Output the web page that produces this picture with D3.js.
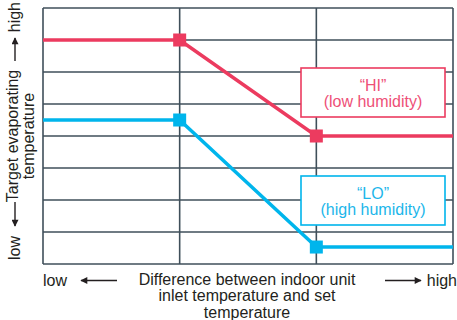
<!DOCTYPE html>
<html>
<head>
<meta charset="utf-8">
<script src="https://cdn.jsdelivr.net/npm/d3@7"></script>
<style>
  html, body { margin: 0; padding: 0; background: #fff; }
  svg { display: block; font-family: "Liberation Sans", Arial, sans-serif; }
</style>
</head>
<body>
<svg id="chart" width="457" height="320"></svg>
<script>
// ---- data ----
const xPositions = [0, 1, 2, 3];          // difference: low -> high
const hiValues   = [7, 7, 4, 4];          // "HI" (low humidity)
const loValues   = [4.5, 4.5, 0.53, 0.53];// "LO" (high humidity)
const markerIdx  = [1, 2];
const yGridTicks = [0, 1, 2, 3, 4, 5, 6, 7, 8];
const xGridTicks = [0, 1, 2, 3];
const seriesNames = ["\u201CHI\u201D", "\u201CLO\u201D"];
const seriesSubs  = ["(low humidity)", "(high humidity)"];
const xLabelLines = ["Difference between indoor unit", "inlet temperature and set", "temperature"];
const yLabelLines = ["Target evaporating", "temperature"];
const lowText = "low", highText = "high";

// ---- layout ----
const W = 457, H = 320;
const plot = { left: 43, right: 453, top: 8, bottom: 264 };
const RED = "#ec3b5f", BLUE = "#00b5ec";
const RED_TXT = "#ee5077", BLUE_TXT = "#1cb6ea";
const GRID = "#3f4f5a", TXT = "#231f20";

const svg = d3.select("#chart");
const x = d3.scaleLinear().domain([0, 3]).range([plot.left, plot.right]);
const y = d3.scaleLinear().domain([0, 8]).range([plot.bottom, plot.top]);

const defs = svg.append("defs");
defs.append("marker").attr("id", "ah").attr("viewBox", "0 0 10 10")
  .attr("refX", 9).attr("refY", 5).attr("markerWidth", 8).attr("markerHeight", 7)
  .attr("markerUnits", "userSpaceOnUse").attr("orient", "auto")
  .append("path").attr("d", "M0,0 L10,5 L0,10 Z").attr("fill", TXT);

// grid
const grid = svg.append("g");
grid.selectAll("line.h").data(yGridTicks).join("line")
  .attr("x1", plot.left).attr("x2", plot.right)
  .attr("y1", d => y(d)).attr("y2", d => y(d))
  .attr("stroke", GRID).attr("stroke-width", 1.6);
grid.selectAll("line.v").data(xGridTicks).join("line")
  .attr("y1", plot.top).attr("y2", plot.bottom)
  .attr("x1", d => x(d)).attr("x2", d => x(d))
  .attr("stroke", GRID).attr("stroke-width", 1.6);

// series
const line = d3.line().x((d, i) => x(xPositions[i])).y(d => y(d));
const series = [{ v: hiValues, c: RED }, { v: loValues, c: BLUE }];
series.forEach(s => {
  svg.append("path").attr("d", line(s.v)).attr("fill", "none")
    .attr("stroke", s.c).attr("stroke-width", 3.5);
  svg.selectAll(null).data(markerIdx).join("rect")
    .attr("x", i => x(xPositions[i]) - 6.5).attr("y", i => y(s.v[i]) - 6.5)
    .attr("width", 13).attr("height", 13).attr("fill", s.c);
});

// annotation boxes
const boxes = [
  { top: 68, c: RED, t: RED_TXT, name: seriesNames[0], sub: seriesSubs[0] },
  { top: 176, c: BLUE, t: BLUE_TXT, name: seriesNames[1], sub: seriesSubs[1] }
];
boxes.forEach(b => {
  const bx = 301, bw = 144, bh = 49;
  svg.append("rect").attr("x", bx).attr("y", b.top).attr("width", bw).attr("height", bh)
    .attr("fill", "#fff").attr("stroke", b.c).attr("stroke-width", 1.6);
  svg.append("text").attr("x", bx + bw / 2).attr("y", b.top + 23).attr("text-anchor", "middle")
    .attr("font-size", 16).attr("fill", b.t).text(b.name);
  svg.append("text").attr("x", bx + bw / 2).attr("y", b.top + 39).attr("text-anchor", "middle")
    .attr("font-size", 16).attr("fill", b.t).text(b.sub);
});

// x-axis label
const cx = 247;
svg.selectAll("text.xl").data(xLabelLines).join("text")
  .attr("x", cx).attr("y", (d, i) => 284.5 + i * 16.8).attr("text-anchor", "middle")
  .attr("font-size", 16).attr("fill", TXT).text(d => d);
svg.append("text").attr("x", 43).attr("y", 286).attr("font-size", 16).attr("fill", TXT).text(lowText);
svg.append("text").attr("x", 457).attr("y", 286).attr("text-anchor", "end").attr("font-size", 16).attr("fill", TXT).text(highText);
svg.append("line").attr("x1", 117).attr("y1", 280.5).attr("x2", 81).attr("y2", 280.5)
  .attr("stroke", TXT).attr("stroke-width", 1.4).attr("marker-end", "url(#ah)");
svg.append("line").attr("x1", 385).attr("y1", 280.5).attr("x2", 421).attr("y2", 280.5)
  .attr("stroke", TXT).attr("stroke-width", 1.4).attr("marker-end", "url(#ah)");

// y-axis label (rotated)
const yc = 136;
svg.selectAll("text.yl").data(yLabelLines).join("text")
  .attr("transform", (d, i) => `translate(${18 + i * 16},${yc}) rotate(-90)`)
  .attr("text-anchor", "middle").attr("font-size", 16).attr("fill", TXT).text(d => d);
svg.append("text").attr("transform", `translate(20,2) rotate(-90)`).attr("text-anchor", "end")
  .attr("font-size", 16).attr("fill", TXT).text(highText);
svg.append("text").attr("transform", `translate(20,260) rotate(-90)`).attr("text-anchor", "start")
  .attr("font-size", 16).attr("fill", TXT).text(lowText);
svg.append("line").attr("x1", 15).attr("y1", 61).attr("x2", 15).attr("y2", 38)
  .attr("stroke", TXT).attr("stroke-width", 1.4).attr("marker-end", "url(#ah)");
svg.append("line").attr("x1", 15).attr("y1", 202).attr("x2", 15).attr("y2", 226)
  .attr("stroke", TXT).attr("stroke-width", 1.4).attr("marker-end", "url(#ah)");
</script>
</body>
</html>
